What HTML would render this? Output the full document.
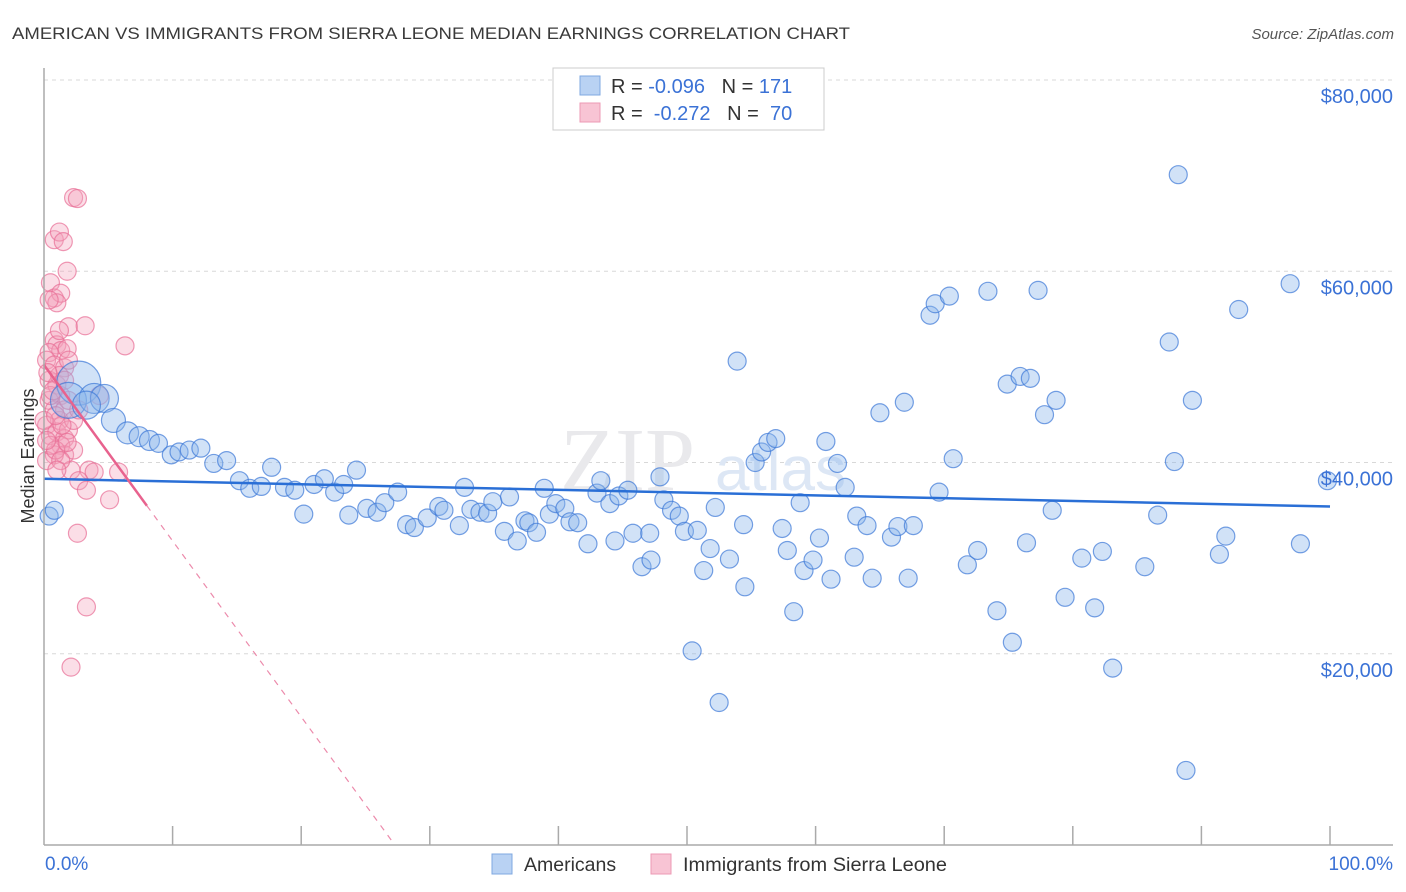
<!DOCTYPE html>
<html><head><meta charset="utf-8"><style>
body{margin:0;background:#fff;font-family:"Liberation Sans",sans-serif;}
svg{display:block}
</style></head><body>
<svg id="chart" width="1406" height="892">
<text x="12" y="39" font-size="17" fill="#3a3a3a" textLength="838" lengthAdjust="spacingAndGlyphs">AMERICAN VS IMMIGRANTS FROM SIERRA LEONE MEDIAN EARNINGS CORRELATION CHART</text>
<text x="1394" y="39" font-size="15" font-style="italic" fill="#555" text-anchor="end">Source: ZipAtlas.com</text>
<text transform="translate(34,456) rotate(-90)" font-size="18" fill="#333" text-anchor="middle">Median Earnings</text>
<g id="grid"></g>
<text x="560" y="490" font-size="90" font-family="Liberation Serif,serif" fill="#e9e9ec">ZIP</text>
<text x="715" y="490" font-size="62" fill="#dde7f5">atlas</text>
<g id="pinkpts"></g>
<g id="bluepts"></g>
<g id="lines"></g>
<line x1="44" y1="68" x2="44" y2="845" stroke="#aaa" stroke-width="1.5"/>
<line x1="44" y1="845" x2="1393" y2="845" stroke="#aaa" stroke-width="1.5"/>
<g id="axes"></g>
<text x="45" y="870" font-size="19" fill="#3b72d6">0.0%</text>
<text x="1393" y="870" font-size="19" fill="#3b72d6" text-anchor="end">100.0%</text>
<g>
<rect x="553" y="68" width="271" height="62" fill="#fff" stroke="#ccc"/>
<rect x="580" y="76" width="20" height="19" fill="#b9d2f3" stroke="#7fa8e0"/>
<rect x="580" y="103" width="20" height="19" fill="#f8c4d4" stroke="#ec9ab4"/>
<text x="611" y="93" font-size="20" fill="#333">R = <tspan fill="#3b72d6">-0.096</tspan>&#160;&#160;&#160;N = <tspan fill="#3b72d6">171</tspan></text>
<text x="611" y="120" font-size="20" fill="#333">R = &#160;<tspan fill="#3b72d6">-0.272</tspan>&#160;&#160;&#160;N = &#160;<tspan fill="#3b72d6">70</tspan></text>
</g>
<rect x="492" y="854" width="20" height="20" fill="#b9d2f3" stroke="#7fa8e0"/>
<text x="524" y="871" font-size="19.5" fill="#333">Americans</text>
<rect x="651" y="854" width="20" height="20" fill="#f8c4d4" stroke="#ec9ab4"/>
<text x="683" y="871" font-size="19.5" fill="#333" textLength="264" lengthAdjust="spacingAndGlyphs">Immigrants from Sierra Leone</text>
</svg>
<script>
const yTicks=[20,40,60,80];
const yTickLabels=["$20,000","$40,000","$60,000","$80,000"];
const xTicks=[10,20,30,40,50,60,70,80,90,100];
const blueX=[2.7,1.9,3.9,4.7,3.3,5.4,6.5,7.4,8.2,8.9,9.9,10.5,11.3,12.2,13.2,14.2,15.2,16.0,16.9,17.7,18.7,19.5,20.2,21.0,21.8,22.6,23.3,24.3,23.7,25.1,25.9,26.5,27.5,28.2,28.8,29.8,30.7,31.1,32.3,32.7,33.2,33.9,34.5,34.9,36.2,35.8,36.8,37.4,37.7,38.3,38.9,39.3,39.8,40.5,40.9,41.5,42.3,43.0,43.3,44.0,44.4,44.7,45.4,45.8,46.5,47.1,47.2,47.9,48.2,48.8,49.4,49.8,50.4,50.8,51.3,51.8,52.2,52.5,53.3,53.9,54.5,54.4,55.3,55.8,56.3,56.9,57.4,57.8,58.3,58.8,59.1,59.8,60.3,60.8,61.2,61.7,62.3,63.0,63.2,64.0,64.4,65.0,65.9,66.4,66.9,67.2,67.6,68.9,69.3,69.6,70.4,70.7,71.8,72.6,73.4,74.1,74.9,75.3,75.9,76.4,76.7,77.3,77.8,78.4,78.7,79.4,80.7,81.7,82.3,83.1,85.6,86.6,87.5,87.9,88.2,88.8,89.3,91.4,91.9,92.9,96.9,97.7,99.8,0.4,0.8];
const blueY=[48.3,46.5,46.7,46.7,46.0,44.4,43.1,42.7,42.3,42.0,40.8,41.1,41.3,41.5,39.9,40.2,38.1,37.3,37.5,39.5,37.4,37.1,34.6,37.7,38.3,36.9,37.7,39.2,34.5,35.2,34.8,35.8,36.9,33.5,33.2,34.2,35.4,35.0,33.4,37.4,35.1,34.8,34.7,35.9,36.4,32.8,31.8,33.9,33.7,32.7,37.3,34.6,35.7,35.2,33.8,33.7,31.5,36.8,38.1,35.7,31.8,36.5,37.1,32.6,29.1,32.6,29.8,38.5,36.1,35.0,34.4,32.8,20.3,32.9,28.7,31.0,35.3,14.9,29.9,50.6,27.0,33.5,40.0,41.1,42.1,42.5,33.1,30.8,24.4,35.8,28.7,29.8,32.1,42.2,27.8,39.9,37.4,30.1,34.4,33.4,27.9,45.2,32.2,33.3,46.3,27.9,33.4,55.4,56.6,36.9,57.4,40.4,29.3,30.8,57.9,24.5,48.2,21.2,49.0,31.6,48.8,58.0,45.0,35.0,46.5,25.9,30.0,24.8,30.7,18.5,29.1,34.5,52.6,40.1,70.1,7.8,46.5,30.4,32.3,56.0,58.7,31.5,38.1,34.4,35.0];
const blueR=[22,18,15,14,14,12,11,10,10,9];
const pinkX=[2.3,2.6,0.8,1.2,1.5,1.8,0.5,0.8,1.3,1.0,1.9,3.2,6.3,0.8,1.0,1.3,0.4,1.8,0.2,0.8,1.6,0.4,1.0,1.3,0.4,0.8,1.2,0.2,0.5,1.0,1.6,1.9,1.3,1.6,2.3,0.8,0.2,2.1,3.5,3.9,5.8,2.7,3.3,5.1,2.6,3.3,2.1,0.5,1.2,0.5,0.0,1.6,1.9,0.9,0.2,2.3,1.3,1.0,2.7,4.3,1.6,1.9,1.2,0.4,0.7,1.4,0.9,0.3,1.8];
const pinkY=[67.7,67.6,63.3,64.1,63.1,60.0,58.8,57.2,57.7,56.7,54.2,54.3,52.2,52.8,52.3,51.7,51.5,51.9,50.7,50.2,49.9,48.6,48.1,47.0,46.5,45.5,44.4,43.9,42.8,43.2,42.5,43.4,41.8,40.8,41.3,40.8,40.2,39.2,39.2,39.0,39.0,38.1,37.1,36.1,32.6,24.9,18.6,41.8,49.1,47.0,44.4,45.5,46.5,41.3,42.3,44.4,40.2,39.2,45.5,47.0,48.6,50.7,53.8,57.0,47.5,43.9,44.9,49.4,42.1];
const blueTrend=[38.3,35.4];
const pinkTrend=[50.2,-1.84];
const pinkSolidEnd=8;
const NS="http://www.w3.org/2000/svg";
const X0=44,X1=1330,Y0=845,Y1=80;
function sx(v){return X0+v/100*(X1-X0);}
function sy(v){return Y0-v/80*(Y0-Y1);}
function mk(tag,attrs,parent){const e=document.createElementNS(NS,tag);for(const k in attrs)e.setAttribute(k,attrs[k]);parent.appendChild(e);return e;}
const grid=document.getElementById('grid'),axes=document.getElementById('axes');
yTicks.forEach((t,i)=>{
 const l=mk('line',{x1:X0,x2:1393,y1:sy(t),y2:sy(t),stroke:'#d8d8d8','stroke-dasharray':'4,4'},grid);
 
 
 const tx=mk('text',{x:1393,y:sy(t)+23,'font-size':20,fill:'#3b72d6','text-anchor':'end'},axes);
 tx.textContent=yTickLabels[i];
 
 
});
xTicks.forEach(t=>{
 const l=mk('line',{x1:sx(t),x2:sx(t),y1:Y0,y2:Y0-19,stroke:'#aaa','stroke-width':1.5},axes);
 
 
});
const pg=document.getElementById('pinkpts');
pinkX.forEach((x,i)=>{
 const c=mk('circle',{cx:sx(x),cy:sy(pinkY[i]),r:9,fill:'rgba(244,160,186,0.35)',stroke:'rgba(232,110,150,0.7)','stroke-width':1.2},pg);
 
 
});
const bg=document.getElementById('bluepts');
blueX.forEach((x,i)=>{
 const c=mk('circle',{cx:sx(x),cy:sy(blueY[i]),r:blueR[i]||9,fill:'rgba(140,182,236,0.4)',stroke:'rgba(60,120,215,0.7)','stroke-width':1.2},bg);
 
 
});
const lg=document.getElementById('lines');
const bl=mk('line',{x1:sx(0),y1:sy(blueTrend[0]),x2:sx(100),y2:sy(blueTrend[1]),stroke:'#2a6fd6','stroke-width':2.5},lg);


const pAt=x=>pinkTrend[0]+pinkTrend[1]*x;
const pl=mk('line',{x1:sx(0),y1:sy(pAt(0)),x2:sx(pinkSolidEnd),y2:sy(pAt(pinkSolidEnd)),stroke:'#e8628e','stroke-width':2.5},lg);


const xEnd=(0.5-pinkTrend[0])/pinkTrend[1];
const pd=mk('line',{x1:sx(pinkSolidEnd),y1:sy(pAt(pinkSolidEnd)),x2:sx(xEnd),y2:sy(pAt(xEnd)),stroke:'#ec8aab','stroke-width':1.2,'stroke-dasharray':'6,6'},lg);


</script>
</body></html>
